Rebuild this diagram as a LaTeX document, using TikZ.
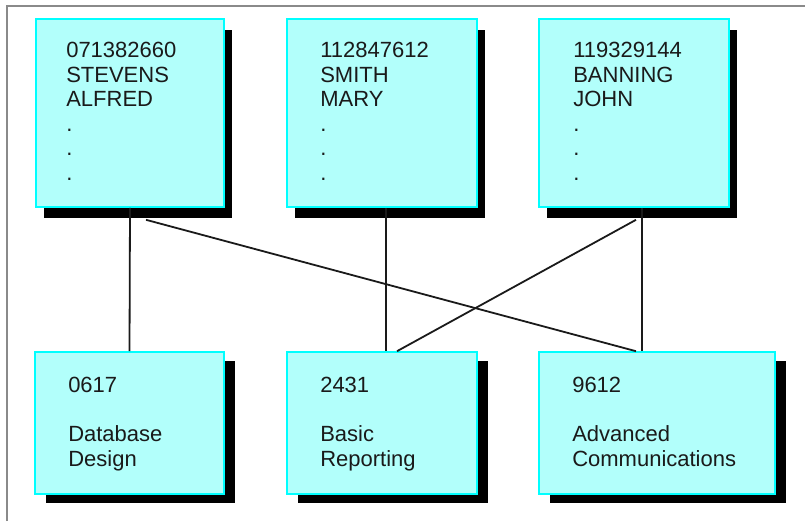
\documentclass[tikz,border=0pt]{standalone}
\usepackage{fontspec}
\setmainfont{Liberation Sans}
\usetikzlibrary{shadows,calc}

\definecolor{boxcyan}{HTML}{B2FFFB}
\definecolor{edgecyan}{HTML}{00FFFF}
\definecolor{framegray}{HTML}{8A8A8A}
\definecolor{inkgray}{HTML}{1A1A1A}

\tikzset{
  recbox/.style={draw=edgecyan, fill=boxcyan, line width=1.2pt, inner sep=0pt},
  upshadow/.style={drop shadow={shadow xshift=6pt, shadow yshift=-8.5pt, fill=black, opacity=1}},
  lowshadow/.style={drop shadow={shadow xshift=8pt, shadow yshift=-6.75pt, fill=black, opacity=1}},
  rectext/.style={anchor=north west, inner sep=0pt, align=left, text=inkgray,
    font=\fontsize{16.5}{18.4}\selectfont},
  link/.style={draw=inkgray, line width=1.35pt}
}

\begin{document}
\begin{tikzpicture}[x=0.75pt,y=0.75pt,yscale=-1,xscale=1]
\useasboundingbox (0,0) rectangle (805,521);

%Frame lines
\draw [framegray, line width=1.5] (7,521) -- (7,6) -- (805,6) ;

%Shape: Rectangle (employee records)
\draw (130,113) node [recbox, upshadow, minimum width=141pt, minimum height=141pt] (emp1) {};
%Shape: Rectangle
\draw (382,113) node [recbox, upshadow, minimum width=142.5pt, minimum height=141pt] (emp2) {};
%Shape: Rectangle
\draw (634,113) node [recbox, upshadow, minimum width=142.5pt, minimum height=141pt] (emp3) {};

%Shape: Rectangle (course records)
\draw (129.5,423) node [recbox, lowshadow, minimum width=141.75pt, minimum height=106.5pt] (crs1) {};
%Shape: Rectangle
\draw (382,423) node [recbox, lowshadow, minimum width=142.5pt, minimum height=106.5pt] (crs2) {};
%Shape: Rectangle
\draw (657,423) node [recbox, lowshadow, minimum width=177pt, minimum height=106.5pt] (crs3) {};

% Text Node
\draw (66,42) node [rectext] (emptxt1) {071382660\\STEVENS\\ALFRED\\.\\.\\.};
% Text Node
\draw (320,42) node [rectext] (emptxt2) {112847612\\SMITH\\MARY\\.\\.\\.};
% Text Node
\draw (573,42) node [rectext] (emptxt3) {119329144\\BANNING\\JOHN\\.\\.\\.};
% Text Node
\draw (68,377) node [rectext] (crstxt1) {0617\\[18.4pt]Database\\Design};
% Text Node
\draw (320,377) node [rectext] (crstxt2) {2431\\[18.4pt]Basic\\Reporting};
% Text Node
\draw (572,377) node [rectext] (crstxt3) {9612\\[18.4pt]Advanced\\Communications};

%Straight Lines
\draw [link] (emp1.south) -- (crs1.north) ;
\draw [link] ($(emp1.south)+(16,12)$) -- ($(crs3.north)+(-21,0)$) ;
\draw [link] ($(emp2.south)+(4,0)$) -- ($(crs2.north)+(4,0)$) ;
\draw [link] ($(emp3.south)+(2,12)$) -- ($(crs2.north)+(15,0)$) ;
\draw [link] ($(emp3.south)+(8,0)$) -- ($(crs3.north)+(-15,0)$) ;

\end{tikzpicture}
\end{document}
